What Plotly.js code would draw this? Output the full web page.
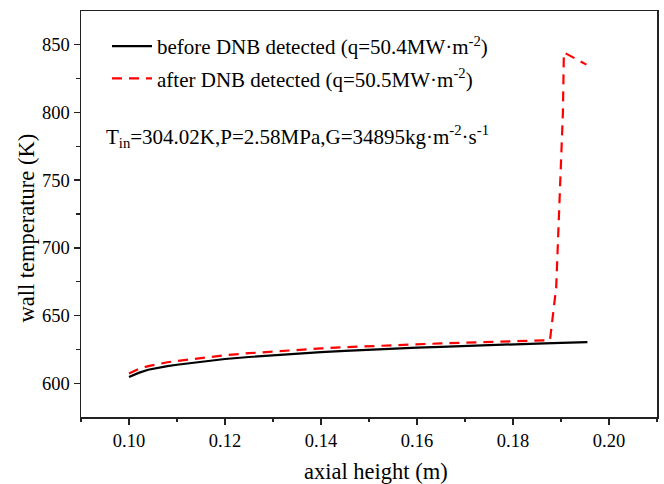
<!DOCTYPE html>
<html>
<head>
<meta charset="utf-8">
<script src="https://cdn.plot.ly/plotly-3.0.1.min.js"></script>
<style>html,body{margin:0;padding:0;background:#fff;}#chart{width:664px;height:484px;}</style>
</head>
<body>
<div id="chart"></div>
<script>
const beforeX = [0.100, 0.102, 0.104, 0.106, 0.108, 0.110, 0.115, 0.120, 0.125, 0.130, 0.135, 0.140, 0.145, 0.150, 0.155, 0.160, 0.165, 0.170, 0.175, 0.180, 0.185, 0.190, 0.1955];
const beforeY = [605.0, 608.0, 610.3, 611.8, 613.0, 614.0, 616.3, 618.2, 619.7, 621.0, 622.2, 623.3, 624.2, 625.1, 625.9, 626.6, 627.2, 627.9, 628.5, 629.1, 629.6, 630.1, 630.7];
const afterX = [0.100, 0.102, 0.104, 0.106, 0.108, 0.110, 0.115, 0.120, 0.125, 0.130, 0.135, 0.140, 0.145, 0.150, 0.155, 0.160, 0.165, 0.170, 0.175, 0.180, 0.185, 0.1877, 0.1890, 0.1899, 0.1904, 0.1906, 0.1953];
const afterY = [607.5, 610.8, 613.0, 614.6, 615.8, 616.8, 619.0, 621.0, 622.5, 623.8, 625.0, 626.0, 626.9, 627.7, 628.4, 629.1, 629.7, 630.3, 630.8, 631.3, 631.8, 632.0, 671, 750, 800, 844, 835];
const xTicks = [0.10, 0.12, 0.14, 0.16, 0.18, 0.20];
const xTickText = ["0.10", "0.12", "0.14", "0.16", "0.18", "0.20"];
const yTicks = [600, 650, 700, 750, 800, 850];
const seriesNames = ["before DNB detected (q=50.4MW·m<sup>-2</sup>)", "after DNB detected (q=50.5MW·m<sup>-2</sup>)"];
const noteText = "T<sub>in</sub>=304.02K,P=2.58MPa,G=34895kg·m<sup>-2</sup>·s<sup>-1</sup>";
const xTitle = "axial height (m)";
const yTitle = "wall temperature (K)";

const serif = "Liberation Serif, Times New Roman, serif";
const traces = [
  {x: beforeX, y: beforeY, mode: "lines", name: seriesNames[0], legendgroup: "a",
   line: {color: "#000000", width: 2.2}},
  {x: afterX, y: afterY, mode: "lines", name: seriesNames[1], legendgroup: "b",
   line: {color: "#ff0000", width: 2.2, dash: "10px,7px"}}
];
const axisCommon = {
  showline: true, linecolor: "#222", linewidth: 1.5, mirror: true,
  ticks: "outside", ticklen: 6, tickwidth: 1.3, tickcolor: "#222",
  showgrid: false, zeroline: false, automargin: false,
  tickfont: {family: serif, size: 18.5, color: "#000"}
};
// plot area in pixels: left 81, right 657, top 11, bottom 417
const plotW = 664 - 81 - 7, plotH = 484 - 11 - 67;
const layout = {
  width: 664, height: 484,
  margin: {l: 81, r: 7, t: 11, b: 67},
  paper_bgcolor: "#fff", plot_bgcolor: "#fff",
  font: {family: serif, color: "#000"},
  xaxis: Object.assign({}, axisCommon, {
    range: [0.09, 0.21], tickvals: xTicks, ticktext: xTickText,
    minor: {dtick: 0.01, tick0: 0.09, ticks: "outside", ticklen: 3.5, tickwidth: 1.2, tickcolor: "#222"}
  }),
  yaxis: Object.assign({}, axisCommon, {
    range: [575.5, 874.5], tickvals: yTicks,
    minor: {dtick: 25, tick0: 575, ticks: "outside", ticklen: 3.5, tickwidth: 1.2, tickcolor: "#222"}
  }),
  showlegend: true,
  legend: {x: (107 - 81) / plotW, y: 1 - (26 - 11) / plotH, xanchor: "left", yanchor: "top", bgcolor: "rgba(0,0,0,0)",
           font: {family: serif, size: 21, color: "#000"}, tracegroupgap: 2, itemwidth: 40},
  annotations: [
    {xref: "paper", yref: "paper", x: 0.04, y: 1 - (136 - 11) / plotH, xanchor: "left", yanchor: "middle",
     text: noteText, showarrow: false, font: {family: serif, size: 21, color: "#000"}},
    {xref: "paper", yref: "paper", x: (376 - 81) / plotW, y: -(471 - 417) / plotH, xanchor: "center", yanchor: "middle",
     text: xTitle, showarrow: false, font: {family: serif, size: 22.5, color: "#000"}},
    {xref: "paper", yref: "paper", x: -(81 - 26.5) / plotW, y: 1 - (228 - 11) / plotH, xanchor: "center", yanchor: "middle",
     text: yTitle, textangle: -90, showarrow: false, font: {family: serif, size: 22.5, color: "#000"}}
  ]
};
Plotly.newPlot("chart", traces, layout, {displayModeBar: false, staticPlot: true});
</script>
</body>
</html>
